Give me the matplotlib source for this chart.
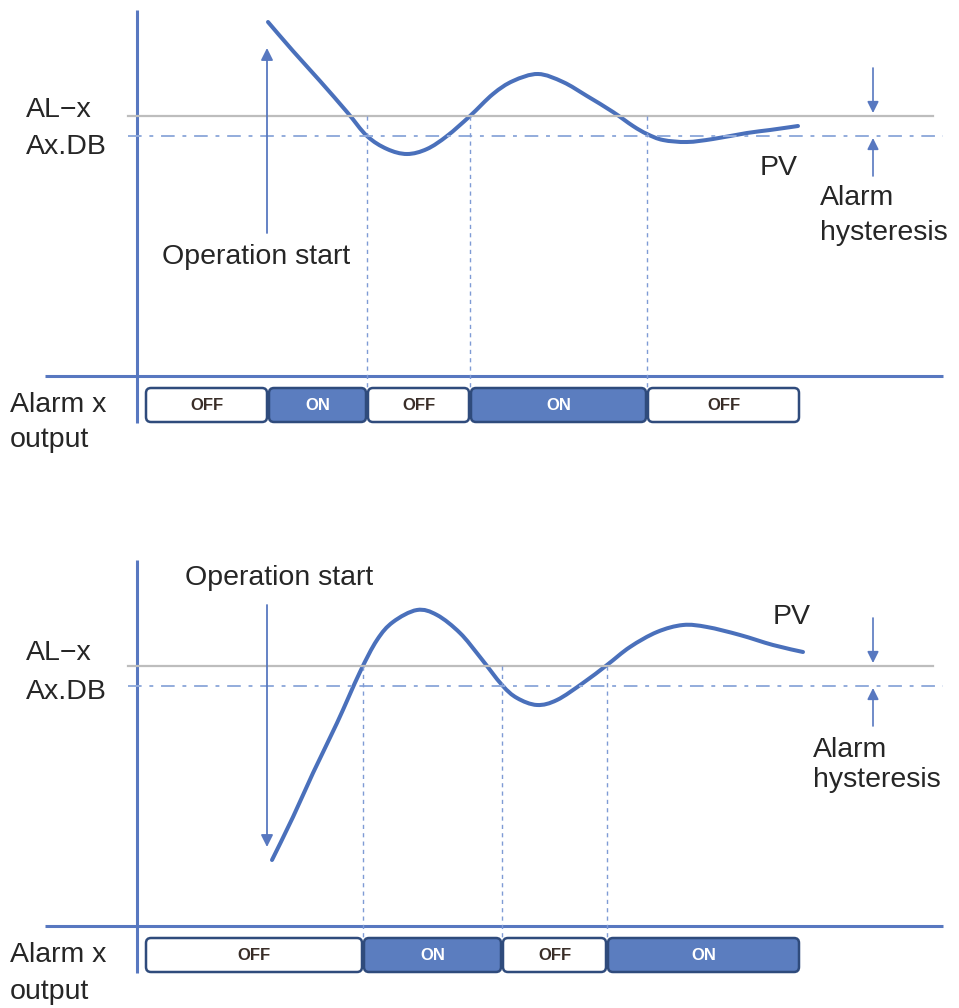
import numpy as np
import matplotlib
import matplotlib.pyplot as plt
from matplotlib.patches import FancyBboxPatch, PathPatch
from matplotlib.path import Path

matplotlib.use('Agg')

plt.rcParams['font.family'] = ['Liberation Sans', 'DejaVu Sans']

# уровни сигнализации (PV над осью времени)
al_level = 260
db_level = 240

# верхняя диаграмма: PV стартует выше уставки
top_time = [268, 293, 320, 347, 367, 387, 407, 427, 447, 470, 493, 513, 538,
            563, 587, 613, 633, 647, 663, 687, 713, 747, 770, 798]
top_pv = [354, 325, 295, 264, 240, 227, 222, 227, 240, 260, 282, 295, 302,
          294, 280, 264, 250, 242, 236, 234, 237, 243, 246, 250]
top_events = [367, 470, 647]
top_edges = [145, 268, 367, 470, 647, 800]
top_states = ['OFF', 'ON', 'OFF', 'ON', 'OFF']

# нижняя диаграмма: PV стартует ниже уставки
bottom_time = [272, 293, 313, 337, 360, 377, 393, 417, 437, 460, 480, 502,
               517, 537, 557, 583, 607, 630, 657, 683, 707, 740, 773, 803]
bottom_pv = [66, 109, 153, 203, 254, 286, 304, 316, 311, 293, 269, 241,
             228, 221, 226, 243, 261, 279, 294, 301, 299, 291, 281, 274]
bottom_events = [363, 502, 607]
bottom_edges = [145, 363, 502, 607, 800]
bottom_states = ['OFF', 'ON', 'OFF', 'ON']

CURVE = '#4a70bb'
AXIS = '#5878c0'
THIN = '#7f9bd5'
TEXT = '#262626'


def smooth_path(x, y):
    """кривая Безье через точки (Catmull-Rom), чтобы PV не был ломаной"""
    pts = np.column_stack([x, y]).astype(float)
    verts = [pts[0]]
    codes = [Path.MOVETO]
    n = len(pts)
    for i in range(n - 1):
        p0 = pts[i - 1] if i > 0 else pts[i]
        p1 = pts[i]
        p2 = pts[i + 1]
        p3 = pts[i + 2] if i + 2 < n else pts[i + 1]
        verts += [p1 + (p2 - p0) / 6, p2 - (p3 - p1) / 6, p2]
        codes += [Path.CURVE4] * 3
    return Path(verts, codes)


def draw_panel(ax, time, pv, events, edges, states, lay):
    ax.set_xlim(0, 959)
    ax.set_ylim(*lay['ylim'])
    ax.axis('off')

    # оси
    ax.plot([45, 943], [0, 0], color=AXIS, lw=2.2, solid_capstyle='butt')
    ax.plot([137, 137], [-47, 366], color=AXIS, lw=2.2, solid_capstyle='butt')

    # уровни AL-x и Ax.DB
    ax.plot([128, 933], [al_level, al_level], color='#bdbdbd', lw=1.6)
    ax.plot([128, 943], [db_level, db_level], color='#93acdc', lw=1.4,
            dashes=(7, 4, 2, 4))

    # моменты переключения
    for t in events:
        ax.plot([t, t], [al_level, -11], color=THIN, lw=1.0, dashes=(3, 3))

    # кривая PV
    ax.add_patch(PathPatch(smooth_path(time, pv), fill=False, edgecolor=CURVE,
                           lw=2.9, capstyle='round'))

    # стрелка "Operation start"
    ax.annotate('', xy=(267, lay['start_tip']), xytext=(267, lay['start_tail']),
                arrowprops=dict(arrowstyle='-|>', mutation_scale=18, lw=1.3,
                                color=AXIS, shrinkA=0, shrinkB=0))
    ax.text(lay['start_text'][0], lay['start_text'][1], 'Operation start',
            fontsize=20.5, color=TEXT, va='center', ha='left')

    # стрелки гистерезиса
    ax.annotate('', xy=(873, al_level + 3), xytext=(873, al_level + 48),
                arrowprops=dict(arrowstyle='-|>', mutation_scale=17, lw=1.2,
                                color=AXIS, shrinkA=0, shrinkB=0))
    ax.annotate('', xy=(873, db_level - 2), xytext=(873, db_level - 40),
                arrowprops=dict(arrowstyle='-|>', mutation_scale=17, lw=1.2,
                                color=AXIS, shrinkA=0, shrinkB=0))
    ax.text(lay['hyst_x'], lay['hyst_y'][0], 'Alarm', fontsize=20.5,
            color=TEXT, va='center', ha='left')
    ax.text(lay['hyst_x'], lay['hyst_y'][1], 'hysteresis', fontsize=20.5,
            color=TEXT, va='center', ha='left')

    ax.text(lay['pv_text'][0], lay['pv_text'][1], 'PV', fontsize=20.5,
            color=TEXT, va='center', ha='left')
    ax.text(26, lay['al_y'], 'AL\u2212x', fontsize=20.5, color=TEXT,
            va='center', ha='left')
    ax.text(26, lay['db_y'], 'Ax.DB', fontsize=20.5, color=TEXT,
            va='center', ha='left')
    ax.text(10, -29, 'Alarm x', fontsize=20.5, color=TEXT, va='center', ha='left')
    ax.text(10, lay['out_y'], 'output', fontsize=20.5, color=TEXT,
            va='center', ha='left')

    # состояние выхода сигнализации
    for x0, x1, st in zip(edges[:-1], edges[1:], states):
        on = st == 'ON'
        box = FancyBboxPatch((x0 + 1, -46), x1 - x0 - 2, 34,
                             boxstyle='round,pad=0,rounding_size=5',
                             facecolor='#5b7dbf' if on else 'white',
                             edgecolor='#2f4b7c', lw=1.8)
        ax.add_patch(box)
        ax.text((x0 + x1) / 2, -29, st, fontsize=12, fontweight='bold',
                color='white' if on else '#3a2e28', ha='center', va='center')


fig = plt.figure(figsize=(9.59, 10.08), dpi=100)

ax_top = fig.add_axes([0, 1 - 470 / 1008, 1, 470 / 1008])
draw_panel(ax_top, top_time, top_pv, top_events, top_edges, top_states,
           dict(ylim=(-94, 376), start_tip=328, start_tail=143,
                start_text=(162, 119), hyst_x=820, hyst_y=(178, 143),
                pv_text=(760, 208), al_y=266, db_y=229, out_y=-64))

ax_bot = fig.add_axes([0, 0, 1, 508 / 1008])
draw_panel(ax_bot, bottom_time, bottom_pv, bottom_events, bottom_edges, bottom_states,
           dict(ylim=(-82, 426), start_tip=79, start_tail=321,
                start_text=(185, 348), hyst_x=813, hyst_y=(176, 146),
                pv_text=(773, 309), al_y=273, db_y=234, out_y=-66))

fig.savefig('out.png', dpi=100)
